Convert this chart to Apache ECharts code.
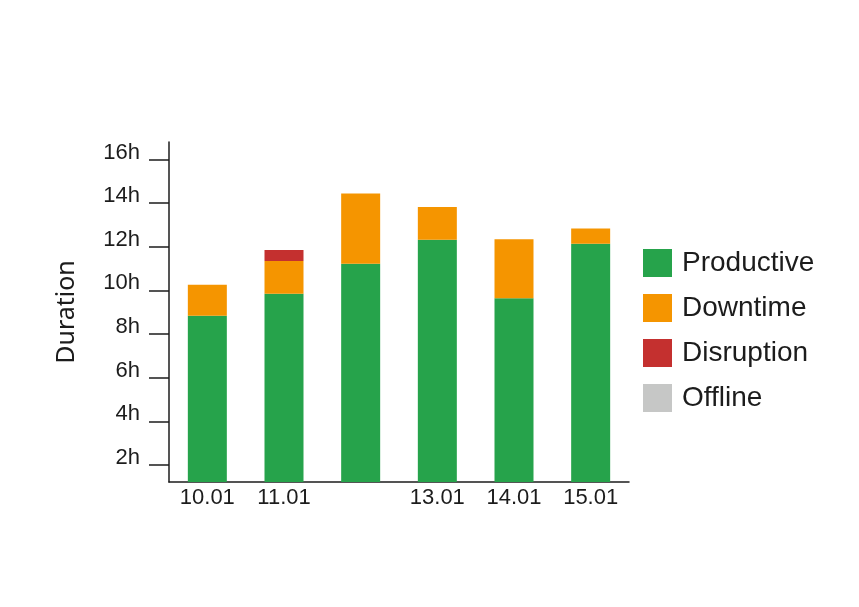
<!DOCTYPE html>
<html>
<head>
<meta charset="utf-8">
<script src="https://cdn.jsdelivr.net/npm/echarts@6/dist/echarts.min.js"></script>
<style>html,body{margin:0;padding:0;background:#fff;}#c{width:859px;height:607px;}</style>
</head>
<body>
<div id="c"></div>
<script>
const categories = ['10.01', '11.01', '12.01', '13.01', '14.01', '15.01'];
const productive = [8.84, 9.85, 11.22, 12.32, 9.64, 12.14];
const downtime = [1.42, 1.5, 3.22, 1.5, 2.7, 0.7];
const disruption = [0, 0.5, 0, 0, 0, 0];
const offline = [0, 0, 0, 0, 0, 0];
const yTicks = [2, 4, 6, 8, 10, 12, 14, 16];

const FONT = 'Liberation Sans';
const TXT = '#1c1c1c';
const chart = echarts.init(document.getElementById('c'));

function mk(name, data, color) {
  return {
    name: name, type: 'bar', stack: 'total', data: data, barWidth: 39,
    itemStyle: { color: color },
    emphasis: { disabled: true }
  };
}

chart.setOption({
  animation: false,
  backgroundColor: '#fff',
  grid: { left: 169, right: 230, top: 142, bottom: 125, containLabel: false },
  legend: {
    orient: 'vertical', left: 643, top: 249, padding: 0,
    itemWidth: 29, itemHeight: 28, itemGap: 17,
    icon: 'rect',
    textStyle: { fontFamily: FONT, fontSize: 28, color: TXT, padding: [0, 0, 0, 5] },
    data: ['Productive', 'Downtime', 'Disruption', 'Offline']
  },
  xAxis: {
    type: 'category', data: categories,
    axisLine: { lineStyle: { color: TXT, width: 1.5 } },
    axisTick: { show: false },
    axisLabel: {
      fontFamily: FONT, fontSize: 22, color: TXT, margin: 5,
      interval: function (i) { return i !== 2; }
    }
  },
  yAxis: {
    type: 'value', min: 1.22, max: 16.8,
    name: 'Duration', nameLocation: 'middle', nameGap: 90, nameRotate: 90,
    nameTextStyle: { fontFamily: 'Noto Sans', fontSize: 25, color: TXT },
    axisLine: { show: true, lineStyle: { color: TXT, width: 1.5 } },
    axisTick: { show: true, length: 20, customValues: yTicks, lineStyle: { color: TXT, width: 1.5 } },
    axisLabel: {
      fontFamily: FONT, fontSize: 22, color: TXT, margin: 29,
      customValues: yTicks, verticalAlign: 'bottom', lineHeight: 14,
      formatter: function (v) { return v + 'h'; }
    },
    splitLine: { show: false }
  },
  series: [
    mk('Productive', productive, '#26a34b'),
    mk('Downtime', downtime, '#f59500'),
    mk('Disruption', disruption, '#c4302f'),
    mk('Offline', offline, '#c6c7c6')
  ]
});
</script>
</body>
</html>
